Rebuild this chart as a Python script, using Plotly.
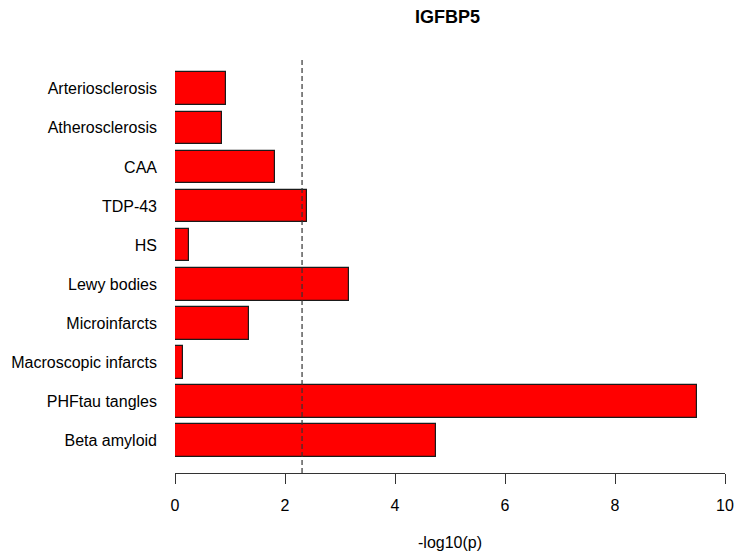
import plotly.graph_objects as go

categories = ["Arteriosclerosis", "Atherosclerosis", "CAA", "TDP-43", "HS",
              "Lewy bodies", "Microinfarcts", "Macroscopic infarcts",
              "PHFtau tangles", "Beta amyloid"]
values = [0.93, 0.86, 1.82, 2.40, 0.25, 3.16, 1.34, 0.14, 9.49, 4.74]
threshold = 2.31
x_ticks = [0, 2, 4, 6, 8, 10]
title_text = "IGFBP5"
x_label = "-log10(p)"

FONT = "Liberation Sans, Arial, sans-serif"

fig = go.Figure()
fig.add_trace(go.Bar(
    x=values, y=categories, orientation="h",
    width=0.833,
    marker=dict(color="#FF0000", line=dict(color="#1a1a1a", width=1.2)),
    showlegend=False,
))

fig.add_shape(type="line", xref="x", yref="paper",
              x0=threshold, x1=threshold, y0=0, y1=1,
              line=dict(color="#333333", width=1.2, dash="5px,3px"))

fig.add_annotation(text=title_text, xref="paper", yref="paper",
                   x=(448 - 175) / 550.5, y=1 + (57 - 17) / 415.7,
                   xanchor="center", yanchor="middle", showarrow=False,
                   font=dict(family=FONT, size=18, color="black", weight="bold"))
fig.add_annotation(text=x_label, xref="paper", yref="paper",
                   x=(450 - 175) / 550.5, y=-(542 - 472.7) / 415.7,
                   xanchor="center", yanchor="middle", showarrow=False,
                   font=dict(family=FONT, size=16, color="black"))

fig.update_layout(
    width=737, height=556,
    margin=dict(l=175, r=11.5, t=57, b=83.3, pad=0, autoexpand=False),
    paper_bgcolor="white", plot_bgcolor="white",
    font=dict(family=FONT, size=16, color="black"),
    xaxis=dict(range=[0, 10], tickvals=x_ticks, ticks="outside", ticklen=10,
               tickwidth=1.2, tickcolor="#333333", automargin=False,
               showline=True, linecolor="#333333", linewidth=1.2,
               showgrid=False, zeroline=False, ticklabelstandoff=8,
               tickfont=dict(family=FONT, size=16, color="black")),
    yaxis=dict(categoryorder="array", categoryarray=categories[::-1],
               range=[-0.826, 9.81], showgrid=False, zeroline=False,
               showline=False, ticks="", ticklabelstandoff=17, automargin=False,
               tickfont=dict(family=FONT, size=16, color="black")),
    bargap=0,
)

fig.write_html("out.html")
